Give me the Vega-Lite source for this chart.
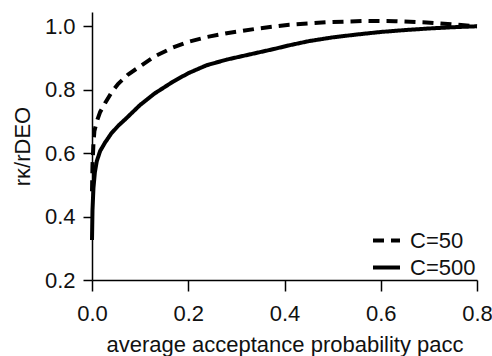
{
  "$schema": "https://vega.github.io/schema/vega-lite/v6.json",
  "width": 385,
  "height": 268,
  "autosize": {"type": "none"},
  "padding": {"left": 92, "top": 12, "right": 15, "bottom": 76},
  "background": "white",
  "config": {
    "view": {"stroke": null},
    "font": "Liberation Sans",
    "axis": {
      "domainColor": "#000",
      "domainWidth": 1.5,
      "tickColor": "#000",
      "tickWidth": 1.5,
      "labelColor": "#111",
      "titleColor": "#111",
      "labelFontSize": 22,
      "titleFontSize": 22,
      "titleFontWeight": "normal",
      "labelFlush": false,
      "grid": false
    },
    "legend": {"labelFontSize": 22, "labelColor": "#111"}
  },
  "data": {
    "values": [
      {"series": "C=500", "p": 0.0, "r": 0.326},
      {"series": "C=500", "p": 0.001, "r": 0.42},
      {"series": "C=500", "p": 0.003, "r": 0.49},
      {"series": "C=500", "p": 0.006, "r": 0.54},
      {"series": "C=500", "p": 0.01, "r": 0.575},
      {"series": "C=500", "p": 0.017, "r": 0.607},
      {"series": "C=500", "p": 0.027, "r": 0.633},
      {"series": "C=500", "p": 0.04, "r": 0.662},
      {"series": "C=500", "p": 0.055, "r": 0.687},
      {"series": "C=500", "p": 0.07, "r": 0.708},
      {"series": "C=500", "p": 0.085, "r": 0.73},
      {"series": "C=500", "p": 0.1, "r": 0.752},
      {"series": "C=500", "p": 0.13, "r": 0.788},
      {"series": "C=500", "p": 0.168, "r": 0.825},
      {"series": "C=500", "p": 0.2, "r": 0.852},
      {"series": "C=500", "p": 0.238, "r": 0.877},
      {"series": "C=500", "p": 0.28, "r": 0.895},
      {"series": "C=500", "p": 0.33, "r": 0.912},
      {"series": "C=500", "p": 0.38, "r": 0.929},
      {"series": "C=500", "p": 0.41, "r": 0.94},
      {"series": "C=500", "p": 0.45, "r": 0.953},
      {"series": "C=500", "p": 0.5, "r": 0.965},
      {"series": "C=500", "p": 0.55, "r": 0.974},
      {"series": "C=500", "p": 0.6, "r": 0.982},
      {"series": "C=500", "p": 0.65, "r": 0.988},
      {"series": "C=500", "p": 0.7, "r": 0.993},
      {"series": "C=500", "p": 0.75, "r": 0.997},
      {"series": "C=500", "p": 0.8, "r": 1.0},
      {"series": "C=50", "p": 0.0, "r": 0.48},
      {"series": "C=50", "p": 0.001, "r": 0.56},
      {"series": "C=50", "p": 0.003, "r": 0.63},
      {"series": "C=50", "p": 0.005, "r": 0.67},
      {"series": "C=50", "p": 0.01, "r": 0.7},
      {"series": "C=50", "p": 0.017, "r": 0.73},
      {"series": "C=50", "p": 0.027, "r": 0.757},
      {"series": "C=50", "p": 0.04, "r": 0.79},
      {"series": "C=50", "p": 0.054, "r": 0.818},
      {"series": "C=50", "p": 0.075, "r": 0.848},
      {"series": "C=50", "p": 0.1, "r": 0.874},
      {"series": "C=50", "p": 0.13, "r": 0.905},
      {"series": "C=50", "p": 0.168, "r": 0.933},
      {"series": "C=50", "p": 0.2, "r": 0.951},
      {"series": "C=50", "p": 0.238, "r": 0.966},
      {"series": "C=50", "p": 0.28, "r": 0.978},
      {"series": "C=50", "p": 0.345, "r": 0.993},
      {"series": "C=50", "p": 0.41, "r": 1.005},
      {"series": "C=50", "p": 0.49, "r": 1.013},
      {"series": "C=50", "p": 0.57, "r": 1.017},
      {"series": "C=50", "p": 0.63, "r": 1.016},
      {"series": "C=50", "p": 0.695, "r": 1.012},
      {"series": "C=50", "p": 0.75, "r": 1.006},
      {"series": "C=50", "p": 0.8, "r": 1.0}
    ]
  },
  "mark": {"type": "line", "color": "#000", "strokeWidth": 4, "clip": false},
  "encoding": {
    "x": {
      "field": "p",
      "type": "quantitative",
      "scale": {"domain": [0, 0.8], "nice": false, "zero": false},
      "axis": {
        "values": [0, 0.2, 0.4, 0.6, 0.8],
        "format": ".1f",
        "tickSize": 11,
        "labelPadding": 12,
        "title": "average acceptance probability pacc",
        "titlePadding": 10
      }
    },
    "y": {
      "field": "r",
      "type": "quantitative",
      "scale": {"domain": [0.2, 1.045], "nice": false, "zero": false},
      "axis": {
        "values": [0.2, 0.4, 0.6, 0.8, 1.0],
        "format": ".1f",
        "tickSize": 9,
        "labelPadding": 8,
        "title": "rκ/rDEO",
        "titlePadding": 10
      }
    },
    "strokeDash": {
      "field": "series",
      "type": "nominal",
      "scale": {"domain": ["C=50", "C=500"], "range": [[11, 7], [1, 0]]},
      "legend": {
        "title": null,
        "orient": "bottom-right",
        "offset": 1,
        "symbolType": "stroke",
        "symbolSize": 729,
        "symbolStrokeWidth": 4,
        "symbolStrokeColor": "#000",
        "rowPadding": 0,
        "labelOffset": 8
      }
    }
  }
}
